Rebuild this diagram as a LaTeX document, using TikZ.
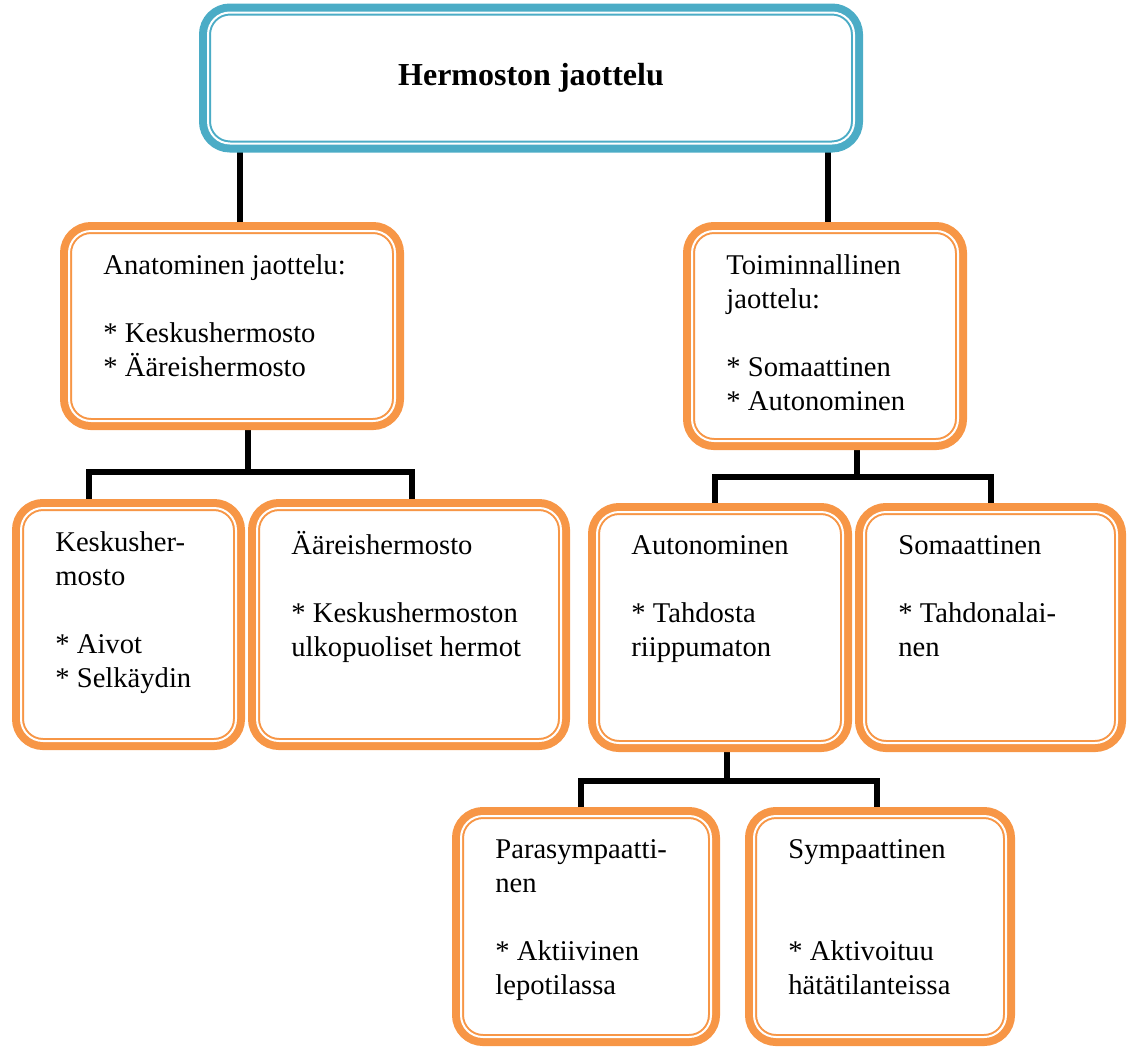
\documentclass[tikz,border=0pt]{standalone}
\usepackage{fontspec}
\setmainfont{Liberation Serif}
\usetikzlibrary{calc,positioning,backgrounds}

\definecolor{aqualine}{RGB}{75,172,198}
\definecolor{orangeline}{RGB}{247,150,70}

\begin{document}
\begin{tikzpicture}[x=0.5pt,y=-0.5pt,
  box/.style={rounded corners=11pt, fill=white, draw=#1, line width=1pt,
    double=white, double distance=1pt, preaction={draw=#1, line width=9pt},
    inner sep=0pt, outer sep=0pt},
  obox/.style={box=orangeline},
  txt/.style={anchor=north west, align=left, inner sep=0pt, font=\fontsize{14.3}{17}\selectfont,
    execute at begin node={\rule{0pt}{14pt}}},
  link/.style={line width=3pt, black}]
  \useasboundingbox (0,0) rectangle (1128,1050);

  % laatikot
  \node[box=aqualine, minimum width=323pt, minimum height=65.5pt, font=\fontsize{16}{19}\selectfont\bfseries] (top) at (531,78) {Hermoston jaottelu};
  \node[obox, minimum width=163pt, minimum height=95pt] (ana) at (232,326) {};
  \node[obox, minimum width=133pt, minimum height=105pt] (toim) at (825,336) {};
  \node[obox, minimum width=107.5pt, minimum height=116.5pt] (kes) at (128.5,624.5) {};
  \node[obox, minimum width=152pt, minimum height=116.5pt] (aar) at (409,624.5) {};
  \node[obox, minimum width=123pt, minimum height=115.5pt] (aut) at (720,627.5) {};
  \node[obox, minimum width=126.5pt, minimum height=115.5pt] (som) at (990.5,627.5) {};
  \node[obox, minimum width=125pt, minimum height=110.5pt] (par) at (586,926.5) {};
  \node[obox, minimum width=126pt, minimum height=110.5pt] (sym) at (880,926.5) {};

  % tekstit
  \node[txt] (anatxt) at ([shift={(34,23)}]ana.north west) {Anatominen jaottelu:\\[17pt]* Keskushermosto\\* Ääreishermosto};
  \node[txt] (toimtxt) at ([shift={(34,23)}]toim.north west) {Toiminnallinen\\jaottelu:\\[17pt]* Somaattinen\\* Autonominen};
  \node[txt] (kestxt) at ([shift={(34,23)}]kes.north west) {Keskusher-\\mosto\\[17pt]* Aivot\\* Selkäydin};
  \node[txt] (aartxt) at ([shift={(34,23)}]aar.north west) {Ääreishermosto\\[17pt]* Keskushermoston\\ulkopuoliset hermot};
  \node[txt] (auttxt) at ([shift={(34,23)}]aut.north west) {Autonominen\\[17pt]* Tahdosta\\riippumaton};
  \node[txt] (somtxt) at ([shift={(34,23)}]som.north west) {Somaattinen\\[17pt]* Tahdonalai-\\nen};
  \node[txt] (partxt) at ([shift={(34,23)}]par.north west) {Parasympaatti-\\nen\\[17pt]* Aktiivinen\\lepotilassa};
  \node[txt] (symtxt) at ([shift={(34,23)}]sym.north west) {Sympaattinen\\[34pt]* Aktivoituu\\hätätilanteissa};

  % yhdysviivat laatikoiden taakse
  \begin{scope}[on background layer]
    \draw[link] ([xshift=4pt]ana.north) -- ([xshift=4pt]ana.north |- top.south);
    \draw[link] ([xshift=1.5pt]toim.north) -- ([xshift=1.5pt]toim.north |- top.south);

    \coordinate (anafork) at ([xshift=8pt,yshift=-25.5pt]ana.south);
    \draw[link] (ana.south -| anafork) -- (anafork);
    \draw[link] ([xshift=-19.75pt]kes.north) |- (anafork) -| ([xshift=1.5pt]aar.north);

    \coordinate (toimfork) at ([xshift=16pt,yshift=-18pt]toim.south);
    \draw[link] (toim.south -| toimfork) -- (toimfork);
    \draw[link] ([xshift=-2.5pt]aut.north) |- (toimfork) -| (som.north);

    \coordinate (autfork) at ([xshift=3.5pt,yshift=-19pt]aut.south);
    \draw[link] (aut.south -| autfork) -- (autfork);
    \draw[link] ([xshift=-2.5pt]par.north) |- (autfork) -| ([xshift=-1.5pt]sym.north);
  \end{scope}
\end{tikzpicture}
\end{document}
